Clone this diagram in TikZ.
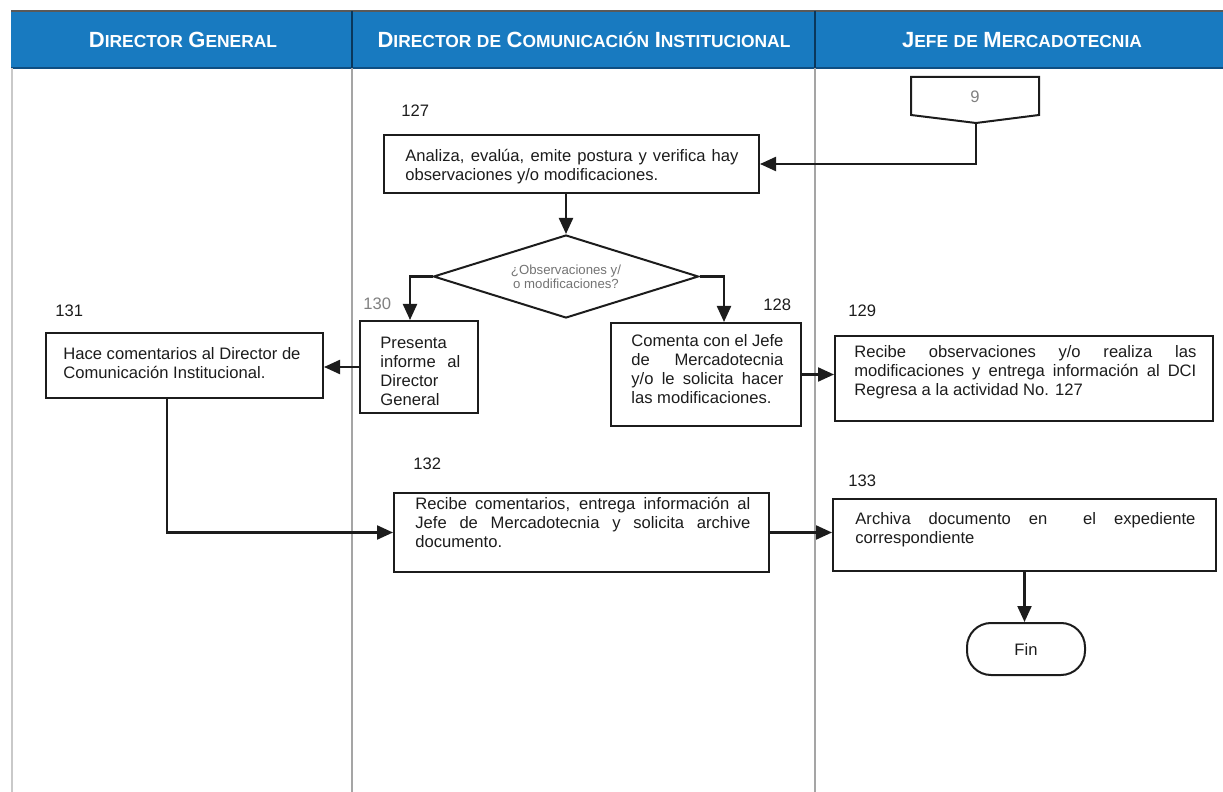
\documentclass[tikz,border=0pt]{standalone}
\usepackage{fontspec}
\setmainfont{Liberation Sans}
\usetikzlibrary{arrows.meta,shapes.geometric,calc}

\definecolor{laneblue}{RGB}{24,122,192}
\definecolor{laneedge}{RGB}{14,78,130}
\definecolor{ink}{RGB}{28,28,28}
\definecolor{rule}{RGB}{165,165,165}

% header words: large initial, smaller capitals after it
\newcommand\hc[2]{{\fontsize{11}{12}\selectfont #1}{\fontsize{8.7}{10}\selectfont #2}}
% a line stretched to the given width
\newcommand\jline[2]{\makebox[#1][s]{#2}}

\begin{document}
\begin{tikzpicture}[x=0.5pt,y=-0.5pt,
  box/.style={draw=ink,line width=1pt,rectangle,inner sep=0pt},
  txt/.style={anchor=north west,inner sep=0pt,align=left,text=ink,font=\fontsize{8.3}{9.5}\selectfont},
  num/.style={anchor=base west,inner sep=0pt,text=ink,font=\fontsize{8.3}{9}\selectfont},
  flow/.style={draw=ink,line width=1.1pt},
  arr/.style={flow,-{Triangle[length=8pt,width=7pt]}},
  head/.style={text=white,font=\bfseries,inner sep=0pt}]

\useasboundingbox (0,0) rectangle (1223,792);

% swimlane header band
\fill[laneblue] (11,11) rectangle (1223,68);
\draw[gray!70!black,line width=1pt] (11,11) -- (1223,11);
\draw[laneedge,line width=1.2pt] (11,68) -- (1223,68);
\draw[laneedge!70!black,line width=1pt] (352,11) -- (352,68);
\draw[laneedge!70!black,line width=1pt] (815,11) -- (815,68);

% lane separators
\draw[rule!60,line width=1pt] (12,68) -- (12,792);
\draw[rule,line width=1pt] (352,68) -- (352,792);
\draw[rule,line width=1pt] (815,68) -- (815,792);

\node[head] (h1) at (183,40) {\hc{D}{IRECTOR} \hc{G}{ENERAL}};
\node[head] (h2) at (584,40) {\hc{D}{IRECTOR} \hc{}{DE} \hc{C}{OMUNICACIÓN} \hc{I}{NSTITUCIONAL}};
\node[head] (h3) at (1022,40) {\hc{J}{EFE} \hc{}{DE} \hc{M}{ERCADOTECNIA}};

% off-page connector 9
\draw[draw=ink,line width=1pt] (911,77) -- (1039,77) -- (1039,115) -- (976,123) -- (911,115) -- cycle;
\coordinate (p9tip) at (976,123);
\node[text=gray,font=\fontsize{8.3}{9}\selectfont,inner sep=0pt] (n9) at (975,97) {9};

% process boxes
\node[box,minimum width=187.5pt,minimum height=29pt] (b127) at (571.5,164) {};
\node[box,minimum width=59pt,minimum height=46pt] (b130) at (419,367) {};
\node[box,minimum width=95pt,minimum height=51.5pt] (b128) at (706,374.5) {};
\node[box,minimum width=189pt,minimum height=42.5pt] (b129) at (1024,378.5) {};
\node[box,minimum width=138.5pt,minimum height=32.5pt] (b131) at (184.5,365.5) {};
\node[box,minimum width=187.5pt,minimum height=39.5pt] (b132) at (581.5,532.5) {};
\node[box,minimum width=191.5pt,minimum height=36pt] (b133) at (1024.5,535) {};
\node[box,rounded corners=12pt,minimum width=59pt,minimum height=26pt,text=ink,font=\fontsize{8.3}{9}\selectfont] (fin) at (1026,649) {Fin};

% decision
\node[draw=ink,line width=1pt,diamond,aspect=3.2,minimum width=132.5pt,minimum height=41.5pt,inner sep=0pt,
      align=center,text=gray!90!black,font=\fontsize{6.6}{7}\selectfont] (dia) at (566,276.5)
      {¿Observaciones y/\\o modificaciones?};

% box texts
\node[txt] (t127) at (405,149) {\jline{166.5pt}{Analiza, evalúa, emite postura y verifica hay}\\observaciones y/o modificaciones.};
\node[txt] (t130) at (380,337) {Presenta\\\jline{40pt}{informe al}\\Director\\General};
\node[txt] (t128) at (631,334) {\jline{76pt}{Comenta con el Jefe}\\\jline{76pt}{de Mercadotecnia}\\\jline{76pt}{y/o le solicita hacer}\\las modificaciones.};
\node[txt] (t129) at (854,345) {\jline{171pt}{Recibe observaciones y/o realiza las}\\\jline{171pt}{modificaciones y entrega información al DCI}\\Regresa a la actividad No. 127};
\node[txt] (t131) at (63,347) {Hace comentarios al Director de\\Comunicación Institucional.};
\node[txt] (t132) at (415,497) {\jline{167.5pt}{Recibe comentarios, entrega información al}\\\jline{167.5pt}{Jefe de Mercadotecnia y solicita archive}\\documento.};
\node[txt] (t133) at (855,512) {\jline{170pt}{Archiva documento en\ \ el expediente}\\correspondiente};

% activity numbers
\node[num] (n127) at (401,117) {127};
\node[num,text=gray] (n130) at (363,309) {130};
\node[num] (n128) at (763,311) {128};
\node[num] (n131) at (55,317) {131};
\node[num] (n129) at (848,316) {129};
\node[num] (n132) at (413,469) {132};
\node[num] (n133) at (848,486) {133};

% connectors
\draw[arr] (p9tip) |- (b127.east);
\draw[arr] (b127.south -| dia.north) -- (dia.north);
\draw[arr] (dia.west) -| ($(b130.north)+(-9,0)$);
\draw[arr] (dia.east) -| ($(b128.north)+(18,0)$);
\draw[arr] (b130.west) -- (b130.west -| b131.east);
\draw[arr] (b128.east) -- (b128.east -| b129.west);
\draw[arr] ($(b131.south)+(-17.5,0)$) |- (b132.west);
\draw[arr] (b132.east) -- (b132.east -| b133.west);
\draw[arr] (b133.south) -- (b133.south |- fin.north);
\end{tikzpicture}
\end{document}
